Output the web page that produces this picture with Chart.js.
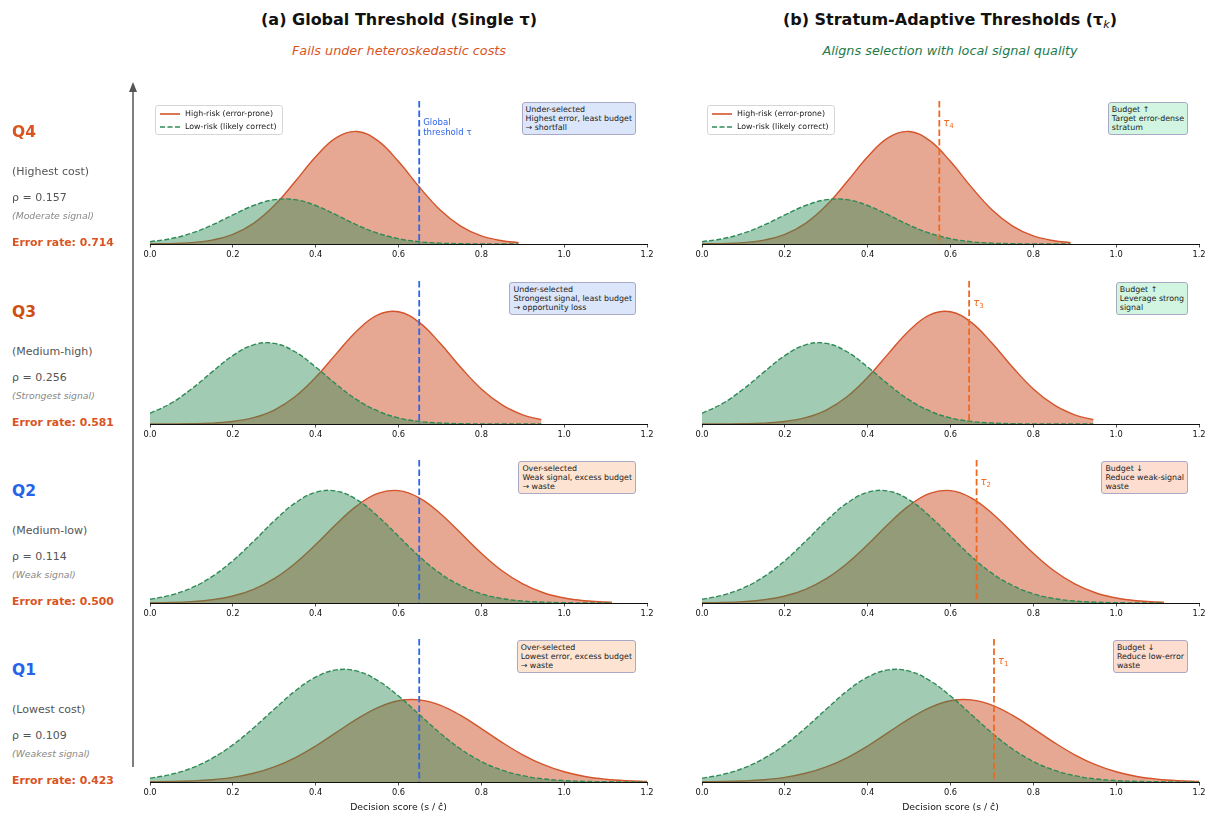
<!DOCTYPE html>
<html>
<head>
<meta charset="utf-8">
<script src="https://cdn.jsdelivr.net/npm/chart.js@4.4.1/dist/chart.umd.min.js"></script>
<style>
  body { margin: 0; background: #fff; }
  #fig { position: relative; width: 1214px; height: 816px; background: #fff; font-family: 'DejaVu Sans', sans-serif; overflow: hidden; }
  #fig canvas { position: absolute; }
  .t { position: absolute; white-space: nowrap; line-height: 1; transform: translateY(-50%); }
  .box { position: absolute; white-space: nowrap; font-size: 7.9px; line-height: 9px; color: #222;
         padding: 2px 3px; border: 1px solid #a9a9c6; border-radius: 3px; }
  .leg { position: absolute; background: rgba(255,255,255,0.85); border: 1px solid #d6d6d6; border-radius: 3px;
         font-size: 7.9px; color: #222; padding: 1px 5px 1px 4px; }
  .leg div { height: 13px; display: flex; align-items: center; white-space: nowrap; }
  .leg svg { margin-right: 5px; }
  sub { font-size: 70%; vertical-align: -0.3em; line-height: 0; }
</style>
</head>
<body>
<div id="fig"></div>
<script>
// ---- data ----
const strata = ['Q4', 'Q3', 'Q2', 'Q1'];
const costLabels = ['(Highest cost)', '(Medium-high)', '(Medium-low)', '(Lowest cost)'];
const rhoValues = ['0.157', '0.256', '0.114', '0.109'];
const signalLabels = ['(Moderate signal)', '(Strongest signal)', '(Weak signal)', '(Weakest signal)'];
const errorRates = ['0.714', '0.581', '0.500', '0.423'];

const xTicks = [0.0, 0.2, 0.4, 0.6, 0.8, 1.0, 1.2];

// decision score grid + densities for each stratum
const scoreQ4 = [0, 0.05, 0.1, 0.15, 0.2, 0.25, 0.3, 0.35, 0.4, 0.45, 0.5, 0.55, 0.6, 0.65, 0.7, 0.75, 0.8, 0.85, 0.89];
const highQ4 = [0.002, 0.008, 0.026, 0.074, 0.183, 0.393, 0.731, 1.183, 1.660, 2.023, 2.141, 1.966, 1.568, 1.086, 0.653, 0.341, 0.154, 0.061, 0.026];
const lowQ4 = [0.043, 0.101, 0.205, 0.361, 0.552, 0.732, 0.843, 0.843, 0.732, 0.552, 0.361, 0.205, 0.101, 0.043, 0.016, 0.005, 0.0015, 0.0004, 0.0001];

const scoreQ3 = [0, 0.05, 0.1, 0.15, 0.2, 0.25, 0.3, 0.35, 0.4, 0.45, 0.5, 0.55, 0.6, 0.65, 0.7, 0.75, 0.8, 0.85, 0.9, 0.945];
const highQ3 = [0.0003, 0.0011, 0.004, 0.013, 0.037, 0.093, 0.205, 0.400, 0.685, 1.033, 1.371, 1.602, 1.648, 1.492, 1.189, 0.834, 0.515, 0.280, 0.134, 0.062];
const lowQ3 = [0.157, 0.302, 0.513, 0.765, 1.005, 1.163, 1.184, 1.061, 0.837, 0.581, 0.355, 0.191, 0.090, 0.038, 0.014, 0.0045, 0.0013, 0.0003, 0.0001, 0];

const scoreQ2 = [0, 0.05, 0.1, 0.15, 0.2, 0.25, 0.3, 0.35, 0.4, 0.45, 0.5, 0.55, 0.6, 0.65, 0.7, 0.75, 0.8, 0.85, 0.9, 0.95, 1.0, 1.05, 1.1, 1.115];
const highQ2 = [0.002, 0.006, 0.015, 0.035, 0.075, 0.147, 0.261, 0.424, 0.627, 0.848, 1.045, 1.176, 1.206, 1.129, 0.964, 0.751, 0.534, 0.346, 0.205, 0.110, 0.054, 0.024, 0.010, 0.0075];
const lowQ2 = [0.040, 0.084, 0.162, 0.284, 0.454, 0.662, 0.882, 1.072, 1.188, 1.201, 1.108, 0.932, 0.716, 0.501, 0.320, 0.187, 0.099, 0.048, 0.021, 0.0086, 0.0032, 0.0011, 0.0003, 0.0002];

const scoreQ1 = [0, 0.05, 0.1, 0.15, 0.2, 0.25, 0.3, 0.35, 0.4, 0.45, 0.5, 0.55, 0.6, 0.65, 0.7, 0.75, 0.8, 0.85, 0.9, 0.95, 1.0, 1.05, 1.1, 1.15, 1.2];
const highQ1 = [0.002, 0.005, 0.012, 0.026, 0.053, 0.099, 0.171, 0.275, 0.409, 0.563, 0.716, 0.845, 0.923, 0.933, 0.873, 0.756, 0.607, 0.450, 0.309, 0.197, 0.116, 0.063, 0.032, 0.015, 0.0065];
const lowQ1 = [0.0435, 0.086, 0.158, 0.269, 0.422, 0.614, 0.827, 1.032, 1.191, 1.273, 1.259, 1.152, 0.977, 0.767, 0.557, 0.375, 0.233, 0.135, 0.072, 0.035, 0.016, 0.0069, 0.0027, 0.001, 0.0003];

const globalTau = 0.65;
const stratumTau = [0.573, 0.645, 0.663, 0.705];   // Q4, Q3, Q2, Q1
const tauIndex = ['4', '3', '2', '1'];

const leftNotes = [
  ['Under-selected', 'Highest error, least budget', '→ shortfall'],
  ['Under-selected', 'Strongest signal, least budget', '→ opportunity loss'],
  ['Over-selected', 'Weak signal, excess budget', '→ waste'],
  ['Over-selected', 'Lowest error, excess budget', '→ waste']
];
const rightNotes = [
  ['Budget ↑', 'Target error-dense', 'stratum'],
  ['Budget ↑', 'Leverage strong', 'signal'],
  ['Budget ↓', 'Reduce weak-signal', 'waste'],
  ['Budget ↓', 'Reduce low-error', 'waste']
];

// ---- styling / layout ----
const RED = '#d4542b';
const RED_FILL = 'rgba(207,82,40,0.5)';
const GREEN = '#2e8b57';
const GREEN_FILL = 'rgba(46,139,87,0.45)';
const BLUE = '#2f66e8';
const ORANGE = '#ee6a22';
const LABEL_RED = '#d9541e';
const FONT = "'DejaVu Sans', sans-serif";

const rowData = [
  [scoreQ4, highQ4, lowQ4],
  [scoreQ3, highQ3, lowQ3],
  [scoreQ2, highQ2, lowQ2],
  [scoreQ1, highQ1, lowQ1]
];
const yTop = [2.72, 2.10, 1.535, 1.624];
const rowTop = [101, 281, 460, 639];
const plotH = 143;
const colLeft = [138, 690];
const pad = 12;
const canvasW = 497 + 2 * pad;

const fig = document.getElementById('fig');

function addText(x, y, html, css) {
  const d = document.createElement('div');
  d.className = 't';
  d.style.left = x + 'px';
  d.style.top = y + 'px';
  d.style.cssText += css;
  d.innerHTML = html;
  fig.appendChild(d);
  return d;
}

function addBox(right, top, lines, bg) {
  const d = document.createElement('div');
  d.className = 'box';
  d.style.right = (1214 - right) + 'px';
  d.style.top = top + 'px';
  d.style.background = bg;
  d.innerHTML = lines.join('<br>');
  fig.appendChild(d);
}

function addLegend(left, top) {
  const d = document.createElement('div');
  d.className = 'leg';
  d.style.left = left + 'px';
  d.style.top = top + 'px';
  d.innerHTML =
    '<div><svg width="20" height="4"><line x1="0" y1="2" x2="20" y2="2" stroke="' + RED + '" stroke-width="1.6"/></svg>High-risk (error-prone)</div>' +
    '<div><svg width="20" height="4"><line x1="0" y1="2" x2="20" y2="2" stroke="' + GREEN + '" stroke-width="1.6" stroke-dasharray="5 2.5"/></svg>Low-risk (likely correct)</div>';
  fig.appendChild(d);
}

const thresholdLine = {
  id: 'thr',
  afterDatasetsDraw(chart, args, opts) {
    const { ctx, chartArea, scales } = chart;
    const px = scales.x.getPixelForValue(opts.value);
    ctx.save();
    ctx.strokeStyle = opts.color;
    ctx.lineWidth = 1.8;
    ctx.setLineDash([6.5, 3]);
    ctx.beginPath();
    ctx.moveTo(px, chartArea.top);
    ctx.lineTo(px, chartArea.bottom);
    ctx.stroke();
    ctx.restore();
  }
};

function makePanel(r, c) {
  const [xs, high, low] = rowData[r];
  const last = r === 3;
  const axisH = last ? 34 : 20;
  const cv = document.createElement('canvas');
  cv.width = canvasW;
  cv.height = plotH + axisH;
  cv.style.left = colLeft[c] + 'px';
  cv.style.top = rowTop[r] + 'px';
  cv.style.width = canvasW + 'px';
  cv.style.height = (plotH + axisH) + 'px';
  fig.appendChild(cv);

  const tau = c === 0 ? globalTau : stratumTau[r];
  const chart = new Chart(cv.getContext('2d'), {
    type: 'line',
    data: {
      datasets: [
        {
          label: 'High-risk (error-prone)',
          data: xs.map((x, i) => ({ x: x, y: high[i] })),
          borderColor: RED,
          backgroundColor: RED_FILL,
          borderWidth: 1.4,
          fill: 'origin',
          pointRadius: 0,
          tension: 0.4,
          order: 2
        },
        {
          label: 'Low-risk (likely correct)',
          data: xs.map((x, i) => ({ x: x, y: low[i] })),
          borderColor: GREEN,
          backgroundColor: GREEN_FILL,
          borderWidth: 1.4,
          borderDash: [5, 2.2],
          fill: 'origin',
          pointRadius: 0,
          tension: 0.4,
          order: 1
        }
      ]
    },
    options: {
      responsive: false,
      animation: false,
      devicePixelRatio: 1,
      events: [],
      layout: { padding: { left: pad, right: pad, top: 0, bottom: 0 } },
      plugins: {
        legend: { display: false },
        tooltip: { enabled: false },
        thr: { value: tau, color: c === 0 ? BLUE : ORANGE }
      },
      scales: {
        x: {
          type: 'linear',
          min: 0,
          max: 1.2,
          afterBuildTicks: s => { s.ticks = xTicks.map(v => ({ value: v })); },
          afterFit: s => { s.height = axisH; },
          ticks: {
            callback: v => v.toFixed(1),
            font: { family: FONT, size: 8.3 },
            color: '#111',
            padding: 2.5,
            maxRotation: 0,
            autoSkip: false
          },
          grid: { display: true, drawOnChartArea: false, drawTicks: true, tickLength: 3.5, color: '#222', tickWidth: 0.8 },
          border: { display: true, color: '#111', width: 1 },
          title: {
            display: last,
            text: 'Decision score (s / ĉ)',
            font: { family: FONT, size: 9.3 },
            color: '#111',
            padding: { top: 0, bottom: 3 }
          }
        },
        y: { display: false, min: 0, max: yTop[r] }
      }
    },
    plugins: [thresholdLine]
  });

  // threshold label next to the dashed line
  const lx = colLeft[c] + chart.scales.x.getPixelForValue(tau) + 4;
  if (c === 0) {
    if (r === 0) {
      addText(lx, rowTop[r] + 26, 'Global<br>threshold τ', 'font-size:8.6px;line-height:10px;color:' + BLUE + ';');
    }
  } else {
    addText(lx, rowTop[r] + 22, '<i>τ</i><sub>' + tauIndex[r] + '</sub>', 'font-size:10px;color:' + ORANGE + ';');
  }

  // annotation box
  const boxRight = colLeft[c] + pad + 486;
  if (c === 0) {
    addBox(boxRight, rowTop[r] + 1, leftNotes[r], r < 2 ? '#dce6fa' : '#fde4d2');
  } else {
    addBox(boxRight, rowTop[r] + 1, rightNotes[r], r < 2 ? '#d2f5e2' : '#fcddd0');
  }
  if (r === 0) addLegend(colLeft[c] + pad + 5, rowTop[r] + 4);
}

for (let r = 0; r < 4; r++) {
  for (let c = 0; c < 2; c++) makePanel(r, c);
}

// ---- left stratum labels ----
const rowLabelColor = ['#d9541e', '#cf4f10', '#2563eb', '#2563eb'];
for (let r = 0; r < 4; r++) {
  const base = rowTop[r] + plotH;     // baseline of the panel
  addText(12, base - 111, strata[r], 'font-size:15.5px;font-weight:bold;color:' + rowLabelColor[r] + ';');
  addText(12, base - 73, costLabels[r], 'font-size:11px;color:#555;');
  addText(12, base - 47, 'ρ = ' + rhoValues[r], 'font-size:11px;color:#555;');
  addText(12, base - 28, signalLabels[r], 'font-size:9.3px;font-style:italic;color:#888;');
  addText(12, base - 1, 'Error rate: ' + errorRates[r], 'font-size:10.8px;font-weight:bold;color:' + LABEL_RED + ';');
}

// ---- vertical cost arrow ----
const svgNS = 'http://www.w3.org/2000/svg';
const arrow = document.createElementNS(svgNS, 'svg');
arrow.setAttribute('width', '20');
arrow.setAttribute('height', '700');
arrow.style.position = 'absolute';
arrow.style.left = '123px';
arrow.style.top = '78px';
arrow.innerHTML = '<line x1="10" y1="12" x2="10" y2="689" stroke="#555" stroke-width="1.5"/>' +
                  '<polygon points="10,4 6,14 14,14" fill="#555"/>';
fig.appendChild(arrow);

// ---- column titles ----
function addTitle(cx, y, html, css) {
  const d = addText(cx, y, html, css);
  d.style.transform = 'translate(-50%,-50%)';
}
addTitle(399, 20, '(a) Global Threshold (Single τ)', 'font-size:16px;font-weight:bold;color:#111;');
addTitle(399, 51, 'Fails under heteroskedastic costs', 'font-size:12.8px;font-style:italic;color:#d9541e;');
addTitle(950, 20, '(b) Stratum-Adaptive Thresholds (τ<sub style="font-weight:normal"><i>k</i></sub>)', 'font-size:16px;font-weight:bold;color:#111;');
addTitle(950, 51, 'Aligns selection with local signal quality', 'font-size:12.8px;font-style:italic;color:#237a4b;');
</script>
</body>
</html>
